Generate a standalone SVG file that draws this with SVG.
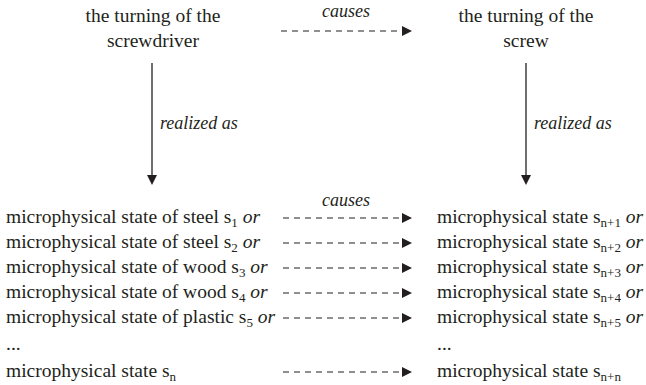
<svg xmlns="http://www.w3.org/2000/svg" width="646" height="385" viewBox="0 0 646 385">
  <style>
    text { fill: #231f20; }
    .node { font-size: 19.5px; }
    .lbl { font-size: 18px; font-style: italic; }
    .sub { font-size: 13px; }
    .it { font-style: italic; }
    .solid { stroke: #231f20; stroke-width: 1.3; fill: none; }
    .dash { stroke: #231f20; stroke-width: 1.1; fill: none; stroke-dasharray: 6 5; }
  </style>
  <defs>
    <marker id="head" viewBox="0 0 10 10" refX="0" refY="5" markerWidth="10" markerHeight="10" markerUnits="userSpaceOnUse" orient="auto">
      <path d="M0,0 L10,5 L0,10 Z" fill="#231f20"/>
    </marker>
  </defs>

  <g id="turning-screwdriver" class="node">
    <text font-family="Liberation Serif" x="153" y="22" text-anchor="middle">the turning of the</text>
    <text font-family="Liberation Serif" x="153" y="47" text-anchor="middle">screwdriver</text>
  </g>
  <g id="turning-screw" class="node">
    <text font-family="Liberation Serif" x="526" y="22" text-anchor="middle">the turning of the</text>
    <text font-family="Liberation Serif" x="526" y="47" text-anchor="middle">screw</text>
  </g>

  <g id="states-left" class="node">
    <text font-family="Liberation Serif" x="6" y="223">microphysical state of steel s<tspan class="sub" dy="4">1</tspan><tspan class="it" dy="-4"> or</tspan></text>
    <text font-family="Liberation Serif" x="6" y="248">microphysical state of steel s<tspan class="sub" dy="4">2</tspan><tspan class="it" dy="-4"> or</tspan></text>
    <text font-family="Liberation Serif" x="6" y="273">microphysical state of wood s<tspan class="sub" dy="4">3</tspan><tspan class="it" dy="-4"> or</tspan></text>
    <text font-family="Liberation Serif" x="6" y="298">microphysical state of wood s<tspan class="sub" dy="4">4</tspan><tspan class="it" dy="-4"> or</tspan></text>
    <text font-family="Liberation Serif" x="6" y="323">microphysical state of plastic s<tspan class="sub" dy="4">5</tspan><tspan class="it" dy="-4"> or</tspan></text>
    <text font-family="Liberation Serif" x="6" y="350">...</text>
    <text font-family="Liberation Serif" x="6" y="377">microphysical state s<tspan class="sub" dy="4">n</tspan></text>
  </g>

  <g id="states-right" class="node">
    <text font-family="Liberation Serif" x="437" y="223">microphysical state s<tspan class="sub" dy="4">n+1</tspan><tspan class="it" dy="-4"> or</tspan></text>
    <text font-family="Liberation Serif" x="437" y="248">microphysical state s<tspan class="sub" dy="4">n+2</tspan><tspan class="it" dy="-4"> or</tspan></text>
    <text font-family="Liberation Serif" x="437" y="273">microphysical state s<tspan class="sub" dy="4">n+3</tspan><tspan class="it" dy="-4"> or</tspan></text>
    <text font-family="Liberation Serif" x="437" y="298">microphysical state s<tspan class="sub" dy="4">n+4</tspan><tspan class="it" dy="-4"> or</tspan></text>
    <text font-family="Liberation Serif" x="437" y="323">microphysical state s<tspan class="sub" dy="4">n+5</tspan><tspan class="it" dy="-4"> or</tspan></text>
    <text font-family="Liberation Serif" x="437" y="350">...</text>
    <text font-family="Liberation Serif" x="437" y="377">microphysical state s<tspan class="sub" dy="4">n+n</tspan></text>
  </g>

  <g id="connectors">
    <!-- top-level causation -->
    <path class="dash" d="M281,31 H402" marker-end="url(#head)"/>
    <text class="lbl" font-family="Liberation Serif" x="346" y="17" text-anchor="middle">causes</text>
    <!-- realization arrows -->
    <path class="solid" d="M152,63 V175" marker-end="url(#head)"/>
    <text class="lbl" font-family="Liberation Serif" x="160" y="129">realized as</text>
    <path class="solid" d="M526,63 V175" marker-end="url(#head)"/>
    <text class="lbl" font-family="Liberation Serif" x="534" y="129">realized as</text>
    <!-- micro-level causation -->
    <text class="lbl" font-family="Liberation Serif" x="346" y="206" text-anchor="middle">causes</text>
    <path class="dash" d="M283,218 H402" marker-end="url(#head)"/>
    <path class="dash" d="M283,243 H402" marker-end="url(#head)"/>
    <path class="dash" d="M283,268 H402" marker-end="url(#head)"/>
    <path class="dash" d="M283,293 H402" marker-end="url(#head)"/>
    <path class="dash" d="M283,318 H402" marker-end="url(#head)"/>
    <path class="dash" d="M283,372 H402" marker-end="url(#head)"/>
  </g>
</svg>
